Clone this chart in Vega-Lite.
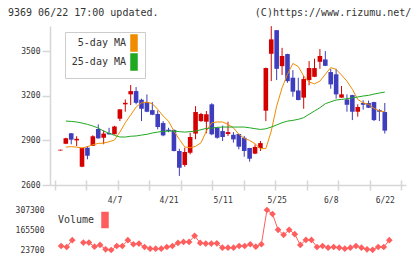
{
  "$schema": "https://vega.github.io/schema/vega-lite/v6.json",
  "padding": {"left": 8, "top": 7, "right": 5, "bottom": 5},
  "background": "white",
  "title": {"text": "9369 06/22 17:00 updated.\u00a0\u00a0\u00a0\u00a0\u00a0\u00a0\u00a0\u00a0\u00a0\u00a0\u00a0\u00a0\u00a0\u00a0\u00a0\u00a0(C)https://www.rizumu.net/", "anchor": "start", "frame": "bounds", "font": "DejaVu Sans Mono", "fontSize": 10, "fontWeight": "normal", "color": "#333", "offset": 8},
  "datasets": {
    "candles": [
      {"i":0,"d":"3/24","o":2832,"h":2838,"l":2832,"c":2838,"m5":null,"m25":null},
      {"i":1,"d":"3/25","o":2878,"h":2918,"l":2875,"c":2914,"m5":2855,"m25":3030},
      {"i":2,"d":"3/26","o":2948,"h":2950,"l":2874,"c":2905,"m5":2858,"m25":3028},
      {"i":3,"d":"3/27","o":2900,"h":2928,"l":2862,"c":2911,"m5":2855,"m25":3024},
      {"i":4,"d":"3/30","o":2723,"h":2851,"l":2720,"c":2849,"m5":2849,"m25":3017},
      {"i":5,"d":"3/31","o":2851,"h":2862,"l":2773,"c":2797,"m5":2858,"m25":3008},
      {"i":6,"d":"4/1","o":2864,"h":2935,"l":2862,"c":2928,"m5":2871,"m25":2997},
      {"i":7,"d":"4/2","o":2977,"h":3008,"l":2912,"c":2914,"m5":2880,"m25":2983},
      {"i":8,"d":"4/3","o":2918,"h":2968,"l":2874,"c":2946,"m5":2882,"m25":2963},
      {"i":9,"d":"4/6","o":2950,"h":2985,"l":2939,"c":2941,"m5":2891,"m25":2948},
      {"i":10,"d":"4/7","o":2941,"h":2998,"l":2940,"c":2994,"m5":2903,"m25":2934},
      {"i":11,"d":"4/8","o":3046,"h":3111,"l":3030,"c":3109,"m5":2956,"m25":2923},
      {"i":12,"d":"4/9","o":3143,"h":3176,"l":3093,"c":3153,"m5":3019,"m25":2923},
      {"i":13,"d":"4/10","o":3210,"h":3273,"l":3138,"c":3232,"m5":3071,"m25":2928},
      {"i":14,"d":"4/13","o":3232,"h":3259,"l":3143,"c":3153,"m5":3125,"m25":2930},
      {"i":15,"d":"4/14","o":3174,"h":3181,"l":3030,"c":3113,"m5":3153,"m25":2936},
      {"i":16,"d":"4/15","o":3158,"h":3210,"l":3090,"c":3093,"m5":3158,"m25":2941},
      {"i":17,"d":"4/16","o":3104,"h":3158,"l":3070,"c":3073,"m5":3147,"m25":2950},
      {"i":18,"d":"4/17","o":3078,"h":3102,"l":2975,"c":2990,"m5":3109,"m25":2956},
      {"i":19,"d":"4/20","o":3017,"h":3030,"l":2928,"c":2934,"m5":3064,"m25":2961},
      {"i":20,"d":"4/21","o":2972,"h":2985,"l":2955,"c":2963,"m5":3030,"m25":2963},
      {"i":21,"d":"4/22","o":2970,"h":2975,"l":2826,"c":2829,"m5":2963,"m25":2963},
      {"i":22,"d":"4/23","o":2829,"h":2844,"l":2661,"c":2716,"m5":2907,"m25":2959},
      {"i":23,"d":"4/24","o":2735,"h":2851,"l":2723,"c":2822,"m5":2856,"m25":2956},
      {"i":24,"d":"4/27","o":2817,"h":2952,"l":2806,"c":2923,"m5":2851,"m25":2959},
      {"i":25,"d":"4/28","o":2946,"h":3131,"l":2908,"c":3091,"m5":2860,"m25":2963},
      {"i":26,"d":"4/30","o":3030,"h":3085,"l":3025,"c":3078,"m5":2884,"m25":2972},
      {"i":27,"d":"5/1","o":3026,"h":3098,"l":2948,"c":3076,"m5":2963,"m25":2981},
      {"i":28,"d":"5/7","o":3143,"h":3150,"l":2935,"c":2941,"m5":3019,"m25":2983},
      {"i":29,"d":"5/8","o":2985,"h":2990,"l":2912,"c":2918,"m5":3024,"m25":2988},
      {"i":30,"d":"5/11","o":2963,"h":3000,"l":2896,"c":2923,"m5":3024,"m25":2990},
      {"i":31,"d":"5/12","o":2943,"h":3026,"l":2930,"c":2956,"m5":3008,"m25":2990},
      {"i":32,"d":"5/13","o":2938,"h":2956,"l":2885,"c":2907,"m5":2985,"m25":2990},
      {"i":33,"d":"5/14","o":2943,"h":2945,"l":2840,"c":2858,"m5":2941,"m25":2990},
      {"i":34,"d":"5/15","o":2918,"h":2930,"l":2790,"c":2829,"m5":2914,"m25":2990},
      {"i":35,"d":"5/18","o":2849,"h":2850,"l":2757,"c":2777,"m5":2900,"m25":2985},
      {"i":36,"d":"5/19","o":2811,"h":2873,"l":2808,"c":2856,"m5":2878,"m25":2979},
      {"i":37,"d":"5/20","o":2849,"h":2896,"l":2829,"c":2882,"m5":2844,"m25":2974},
      {"i":38,"d":"5/21","o":3100,"h":3390,"l":3030,"c":3387,"m5":2845,"m25":2978},
      {"i":39,"d":"5/22","o":3483,"h":3669,"l":3299,"c":3580,"m5":2963,"m25":2990},
      {"i":40,"d":"5/25","o":3642,"h":3642,"l":3306,"c":3382,"m5":3131,"m25":3004},
      {"i":41,"d":"5/26","o":3400,"h":3523,"l":3340,"c":3468,"m5":3254,"m25":3019},
      {"i":42,"d":"5/27","o":3481,"h":3483,"l":3288,"c":3299,"m5":3345,"m25":3030},
      {"i":43,"d":"5/28","o":3322,"h":3373,"l":3194,"c":3228,"m5":3418,"m25":3035},
      {"i":44,"d":"5/29","o":3236,"h":3322,"l":3170,"c":3172,"m5":3397,"m25":3042},
      {"i":45,"d":"6/1","o":3188,"h":3333,"l":3113,"c":3313,"m5":3333,"m25":3053},
      {"i":46,"d":"6/2","o":3306,"h":3434,"l":3271,"c":3387,"m5":3293,"m25":3076},
      {"i":47,"d":"6/3","o":3328,"h":3450,"l":3326,"c":3387,"m5":3281,"m25":3098},
      {"i":48,"d":"6/4","o":3429,"h":3515,"l":3382,"c":3468,"m5":3299,"m25":3120},
      {"i":49,"d":"6/5","o":3445,"h":3501,"l":3400,"c":3402,"m5":3345,"m25":3147},
      {"i":50,"d":"6/8","o":3360,"h":3382,"l":3248,"c":3277,"m5":3390,"m25":3160},
      {"i":51,"d":"6/9","o":3345,"h":3382,"l":3181,"c":3210,"m5":3378,"m25":3172},
      {"i":52,"d":"6/10","o":3188,"h":3266,"l":3186,"c":3210,"m5":3340,"m25":3176},
      {"i":53,"d":"6/11","o":3176,"h":3210,"l":3093,"c":3140,"m5":3299,"m25":3181},
      {"i":54,"d":"6/12","o":3205,"h":3207,"l":3037,"c":3093,"m5":3244,"m25":3187},
      {"i":55,"d":"6/15","o":3093,"h":3143,"l":3060,"c":3125,"m5":3176,"m25":3192},
      {"i":56,"d":"6/16","o":3152,"h":3170,"l":3107,"c":3140,"m5":3153,"m25":3199},
      {"i":57,"d":"6/17","o":3152,"h":3168,"l":3118,"c":3120,"m5":3143,"m25":3203},
      {"i":58,"d":"6/18","o":3158,"h":3160,"l":3030,"c":3037,"m5":3116,"m25":3212},
      {"i":59,"d":"6/19","o":3104,"h":3111,"l":3030,"c":3093,"m5":3098,"m25":3219},
      {"i":60,"d":"6/22","o":3091,"h":3152,"l":2946,"c":2966,"m5":3093,"m25":3225}
    ],
    "vol": [
      {"i":1,"v":52000},{"i":2,"v":45000},{"i":3,"v":93000},{"i":4,"v":null},{"i":5,"v":76000},
      {"i":6,"v":76000},{"i":7,"v":47000},{"i":8,"v":59500},{"i":9,"v":28700},{"i":10,"v":23700},
      {"i":11,"v":52000},{"i":12,"v":52000},{"i":13,"v":93000},{"i":14,"v":64500},{"i":15,"v":69000},
      {"i":16,"v":45000},{"i":17,"v":33000},{"i":18,"v":33000},{"i":19,"v":33000},{"i":20,"v":45000},
      {"i":21,"v":52000},{"i":22,"v":73800},{"i":23,"v":81000},{"i":24,"v":81000},{"i":25,"v":124000},
      {"i":26,"v":73800},{"i":27,"v":69000},{"i":28,"v":69000},{"i":29,"v":71000},{"i":30,"v":40000},
      {"i":31,"v":40000},{"i":32,"v":40000},{"i":33,"v":52000},{"i":34,"v":52000},{"i":35,"v":64500},
      {"i":36,"v":47000},{"i":37,"v":64500},{"i":38,"v":307300},{"i":39,"v":279000},{"i":40,"v":167000},
      {"i":41,"v":131000},{"i":42,"v":167000},{"i":43,"v":136000},{"i":44,"v":59500},{"i":45,"v":95000},
      {"i":46,"v":95000},{"i":47,"v":45000},{"i":48,"v":52000},{"i":49,"v":40000},{"i":50,"v":45000},
      {"i":51,"v":40000},{"i":52,"v":33000},{"i":53,"v":40000},{"i":54,"v":52000},{"i":55,"v":40000},
      {"i":56,"v":28700},{"i":57,"v":25000},{"i":58,"v":45000},{"i":59,"v":45000},{"i":60,"v":93000}
    ]
  },
  "vconcat": [
    {
      "width": 356,
      "height": 159,
      "data": {"name": "candles"},
      "layer": [
        {
          "mark": {"type": "rule", "strokeWidth": 1},
          "encoding": {
            "x": {"field": "i", "type": "quantitative", "scale": {"domain": [-1, 63], "nice": false, "zero": false},
                  "axis": {"orient": "bottom", "values": [-1, 4.818, 10.636, 16.455, 22.273, 28.091, 33.909, 39.727, 45.545, 51.364, 57.182, 63], "labels": false, "tickSize": 5, "title": null}},
            "y": {"field": "l", "type": "quantitative", "scale": {"domain": [2600, 3670], "nice": false, "zero": false}, "title": null,
                  "axis": {"values": [2600, 2900, 3200, 3500], "format": "d", "tickSize": 8, "labelPadding": 2, "minExtent": 42, "maxExtent": 42, "title": null}},
            "y2": {"field": "h"},
            "color": {"condition": {"test": "datum.c >= datum.o", "value": "#d40000"}, "value": "#3d3dbd"}
          }
        },
        {
          "mark": {"type": "bar", "size": 4.6},
          "encoding": {
            "x": {"field": "i", "type": "quantitative",
                  "axis": {"orient": "bottom", "values": [10, 20, 30, 40, 50, 60], "ticks": false, "domain": false, "labelPadding": 11, "title": null,
                           "labelExpr": "['','4/7','4/21','5/11','5/25','6/8','6/22'][datum.value/10]"}},
            "y": {"field": "o", "type": "quantitative", "title": null},
            "y2": {"field": "c"},
            "color": {"condition": {"test": "datum.c >= datum.o", "value": "#d40000"}, "value": "#3d3dbd"}
          }
        },
        {
          "transform": [{"fold": ["m5", "m25"], "as": ["series", "ma"]}],
          "mark": {"type": "line", "strokeWidth": 1},
          "encoding": {
            "x": {"field": "i", "type": "quantitative",
                  "axis": {"orient": "bottom", "values": [-1, 4.818, 10.636, 16.455, 22.273, 28.091, 33.909, 39.727, 45.545, 51.364, 57.182, 63], "labels": false, "domain": false, "tickSize": -5, "title": null}},
            "y": {"field": "ma", "type": "quantitative", "title": null},
            "color": {"field": "series", "type": "nominal",
                      "scale": {"domain": ["m5", "m25"], "range": ["#f08c00", "#20a820"]},
                      "legend": {"orient": "none", "legendX": 15, "legendY": 6, "title": null, "direction": "vertical",
                                 "symbolType": "M-0.6,-1.6H0.6V1.6H-0.6Z", "symbolSize": 100,
                                 "labelExpr": "datum.label == 'm5' ? '5-day MA' : '25-day MA'",
                                 "labelFont": "DejaVu Sans Mono", "labelFontSize": 10, "labelColor": "#333",
                                 "labelAlign": "right", "symbolOffset": 58, "labelOffset": -14,
                                 "strokeColor": "#cccccc", "fillColor": "#ffffff", "padding": 5, "rowPadding": -3,
                                 "encode": {"symbols": {"update": {"fill": {"signal": "datum.value == 'm5' ? '#f08c00' : '#20a820'"}, "stroke": {"value": "#333"}, "strokeWidth": {"value": 1.5}, "opacity": {"value": 1}}}}}}
          }
        }
      ],
      "resolve": {"axis": {"x": "independent"}}
    },
    {
      "width": 356,
      "height": 40,
      "data": {"name": "vol"},
      "encoding": {
        "x": {"field": "i", "type": "quantitative", "scale": {"domain": [-1, 63], "nice": false, "zero": false}, "axis": null},
        "y": {"field": "v", "type": "quantitative", "scale": {"domain": [23700, 307300], "nice": false, "zero": false},
              "axis": {"values": [23700, 165500, 307300], "format": "d", "ticks": false, "domain": false, "labelPadding": 6, "minExtent": 42, "maxExtent": 42, "title": null}},
        "color": {"datum": "Volume", "type": "nominal", "scale": {"range": ["#ff5e5e"]},
                  "legend": {"orient": "none", "legendX": 6, "legendY": 4, "title": null,
                             "symbolType": "M-0.6,-1.5H0.6V1.5H-0.6Z", "symbolSize": 100,
                             "labelFont": "DejaVu Sans Mono", "labelFontSize": 10, "labelColor": "#333",
                             "labelAlign": "right", "symbolOffset": 43, "labelOffset": -17,
                             "encode": {"symbols": {"update": {"fill": {"value": "#ff5e5e"}, "stroke": {"value": "#333"}, "strokeWidth": {"value": 1.5}, "opacity": {"value": 1}}}}}}
      },
      "layer": [
        {"mark": {"type": "line", "strokeWidth": 1}},
        {"mark": {"type": "point", "shape": "diamond", "filled": true, "size": 45, "opacity": 1}}
      ]
    }
  ],
  "spacing": 2,
  "resolve": {"scale": {"color": "independent"}, "legend": {"color": "independent"}},
  "config": {
    "view": {"stroke": null},
    "font": "DejaVu Sans Mono",
    "axis": {"labelFont": "DejaVu Sans Mono", "labelFontSize": 8, "labelColor": "#333", "domainColor": "#d6d6d6", "tickColor": "#d6d6d6", "domainWidth": 1.5, "tickWidth": 1.5, "grid": false}
  }
}
